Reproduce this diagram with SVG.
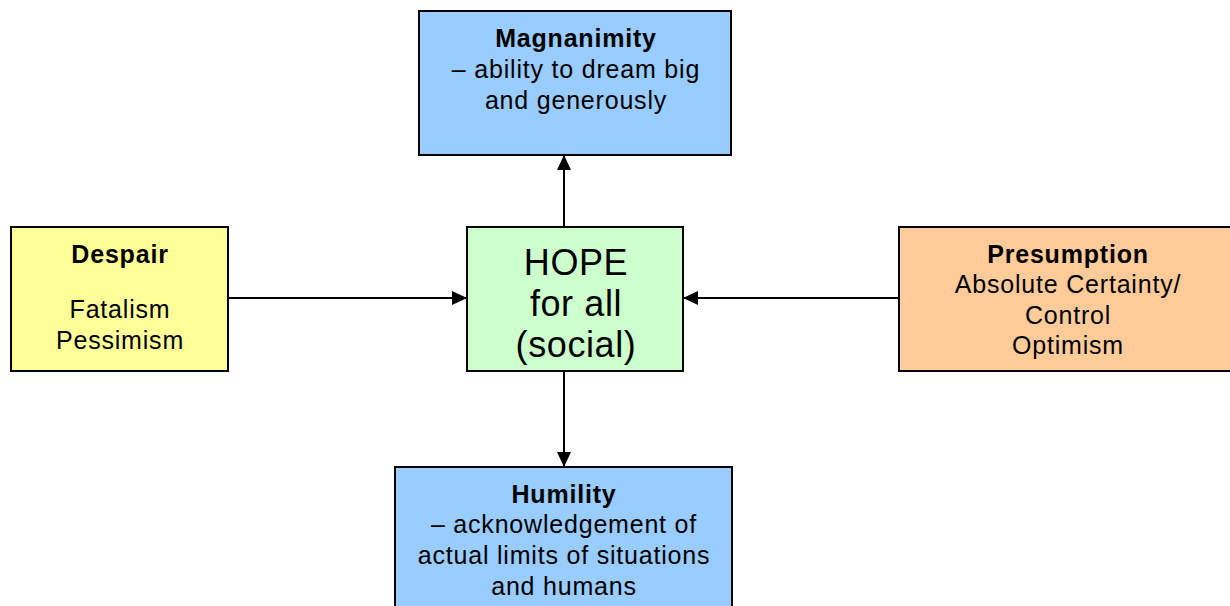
<svg xmlns="http://www.w3.org/2000/svg" width="1230" height="606" viewBox="0 0 1230 606">
<defs>
<marker id="ah" markerWidth="15" markerHeight="14" refX="15" refY="7" orient="auto" markerUnits="userSpaceOnUse">
<path d="M0,0 L15,7 L0,14 Z" fill="#000"/>
</marker>
<style>
.box{stroke:#000;stroke-width:2}
text{font-family:"Liberation Sans",Arial,sans-serif;font-size:25px;letter-spacing:0.8px;fill:#000;text-anchor:middle}
.b{font-weight:bold}
.big{font-size:36px;letter-spacing:0.6px}
.conn{stroke:#000;stroke-width:2;fill:none;marker-end:url(#ah)}
</style>
</defs>
<rect width="1230" height="606" fill="#fff"/>
<g id="connectors">
<line class="conn" x1="564" y1="227" x2="564" y2="155"/>
<line class="conn" x1="564" y1="371" x2="564" y2="467"/>
<line class="conn" x1="228" y1="298" x2="467" y2="298"/>
<line class="conn" x1="899" y1="298" x2="683" y2="298"/>
</g>
<g id="magnanimity">
<rect class="box" x="419" y="11" width="312" height="144" fill="#99CCFF"/>
<text class="b" x="576" y="47">Magnanimity</text>
<text x="576" y="78">– ability to dream big</text>
<text x="576" y="109">and generously</text>
</g>
<g id="despair">
<rect class="box" x="11" y="227" width="217" height="144" fill="#FFFF99"/>
<text class="b" x="120" y="263">Despair</text>
<text x="120" y="318">Fatalism</text>
<text x="120" y="349">Pessimism</text>
</g>
<g id="hope">
<rect class="box" x="467" y="227" width="216" height="144" fill="#CCFFCC"/>
<text class="big" x="576" y="275">HOPE</text>
<text class="big" x="576" y="316">for all</text>
<text class="big" x="576" y="357">(social)</text>
</g>
<g id="presumption">
<rect class="box" x="899" y="227" width="336" height="144" fill="#FFCC99"/>
<text class="b" x="1068" y="263">Presumption</text>
<text x="1068" y="293">Absolute Certainty/</text>
<text x="1068" y="324">Control</text>
<text x="1068" y="354">Optimism</text>
</g>
<g id="humility">
<rect class="box" x="395" y="467" width="337" height="150" fill="#99CCFF"/>
<text class="b" x="564" y="503">Humility</text>
<text x="564" y="533">– acknowledgement of</text>
<text x="564" y="564">actual limits of situations</text>
<text x="564" y="595">and humans</text>
</g>
</svg>
